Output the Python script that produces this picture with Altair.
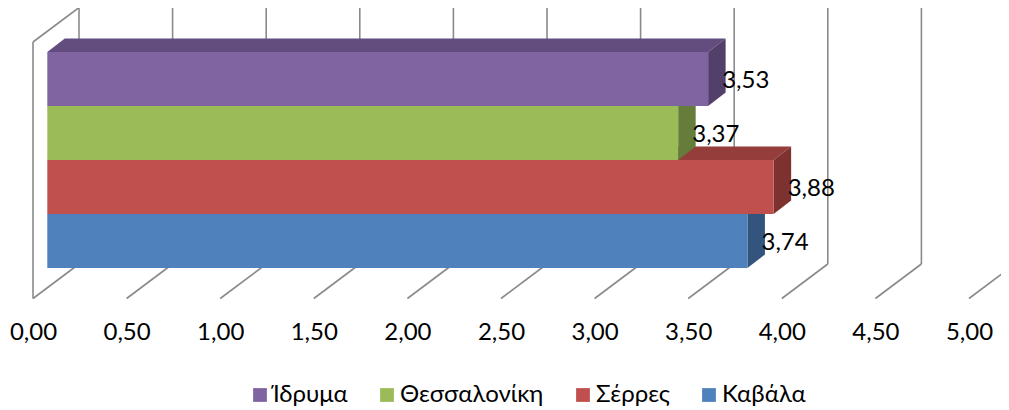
import altair as alt
import pandas as pd

# --- values ---
categories = ["Καβάλα", "Σέρρες", "Θεσσαλονίκη", "Ίδρυμα"]   # bottom to top
values = [3.74, 3.88, 3.37, 3.53]
legend_order = ["Ίδρυμα", "Θεσσαλονίκη", "Σέρρες", "Καβάλα"]
tick_values = [0, 0.5, 1, 1.5, 2, 2.5, 3, 3.5, 4, 4.5, 5]
top_colors = ["#3E6696", "#953D3B", "#7A9446", "#634D7E"]
side_colors = ["#33547C", "#7D3230", "#667C3A", "#52406B"]
legend_colors = ["#8064A2", "#9BBB59", "#C0504D", "#4F81BD"]

# --- pseudo-3D geometry, in axis units ---
FONT = "Lato"
FS = 24
GREY = "#8A8A8A"
X_DOM = [-0.13355, 5.1709]
Y_DOM = [-0.685, 4.8148]
WALL_DX, WALL_DY = 0.2457, 0.639
FLOOR_Y = -0.5648
FRONT_TOP = 4.185
BAR_OFF = 0.0764
BAR_DX, BAR_DY = 0.0935, 0.25

xs = alt.Scale(domain=X_DOM, nice=False, zero=False)
ys = alt.Scale(domain=Y_DOM, nice=False, zero=False)
x_axis = alt.Axis(
    values=tick_values, domain=False, ticks=False, grid=False, labelPadding=15,
    labelFont=FONT, labelFontSize=FS, labelColor="#000000", labelAngle=0,
    labelExpr="replace(format(datum.value,'.2f'),'.',',')",
    labelOverlap=False, labelFlush=False, labelBound=False)
X = lambda f="x": alt.X(f + ":Q", scale=xs, axis=x_axis, title=None)
Y = lambda f="y": alt.Y(f + ":Q", scale=ys, axis=None)
X2 = alt.X2("x2:Q")
Y2 = alt.Y2("y2:Q")

layers = []

# floor and wall lines
seg = []
for v in tick_values:
    seg.append(dict(x=v, y=FLOOR_Y, x2=v + WALL_DX, y2=FLOOR_Y + WALL_DY))
    seg.append(dict(x=v + WALL_DX, y=FLOOR_Y + WALL_DY, x2=v + WALL_DX, y2=FRONT_TOP + WALL_DY))
seg.append(dict(x=0, y=FLOOR_Y, x2=0, y2=FRONT_TOP))
seg.append(dict(x=0, y=FRONT_TOP, x2=WALL_DX, y2=FRONT_TOP + WALL_DY))
grid = alt.Chart(pd.DataFrame(seg)).mark_rule(color=GREY, strokeWidth=1.6, clip=True).encode(
    x=X(), y=Y(), x2=X2, y2=Y2)
layers.append(grid)

# bars, lowest first so that higher bars overlap them
for i, (c, v) in enumerate(zip(categories, values)):
    left = BAR_OFF
    right = BAR_OFF + v
    bot, top = i, i + 1
    top_df = pd.DataFrame([
        dict(x=left, y=top, y2=top),
        dict(x=left + BAR_DX, y=top + BAR_DY, y2=top),
        dict(x=right, y=top + BAR_DY, y2=top),
        dict(x=right + BAR_DX, y=top + BAR_DY, y2=top + BAR_DY),
    ])
    layers.append(alt.Chart(top_df).mark_area(color=top_colors[i], opacity=1, clip=True).encode(
        x=X(), y=Y(), y2=Y2))
    side_df = pd.DataFrame([
        dict(x=right, y=top, y2=bot),
        dict(x=right + BAR_DX, y=top + BAR_DY, y2=bot + BAR_DY),
    ])
    layers.append(alt.Chart(side_df).mark_area(color=side_colors[i], opacity=1, clip=True).encode(
        x=X(), y=Y(), y2=Y2))
    front_df = pd.DataFrame([dict(x=left, x2=right, y=bot, y2=top, name=c)])
    layers.append(alt.Chart(front_df).mark_rect(opacity=1).encode(
        x=X(), x2=X2, y=Y(), y2=Y2,
        color=alt.Color("name:N", scale=alt.Scale(domain=legend_order, range=legend_colors),
                        legend=alt.Legend(orient="none", legendX=240, legendY=375, direction="horizontal",
                                          columns=4, columnPadding=27, title=None, symbolType="square",
                                          symbolSize=190, symbolStrokeWidth=0, symbolOpacity=1,
                                          labelFont=FONT, labelFontSize=24, labelColor="#000000",
                                          labelLimit=300, labelOffset=1, padding=0))))

# value labels
lab_df = pd.DataFrame(dict(
    x=[BAR_OFF + v + 0.075 for v in values],
    y=[i + 0.5 for i in range(len(values))],
    t=[f"{v:.2f}".replace(".", ",") for v in values]))
layers.append(alt.Chart(lab_df).mark_text(align="left", baseline="middle", font=FONT, fontSize=FS, dy=2,
                                          color="#000000").encode(x=X(), y=Y(), text="t:N"))

chart = alt.layer(*layers).resolve_scale(x="shared", y="shared").properties(
    width=993, height=297,
    padding={"left": 0, "top": 0, "right": 0, "bottom": 104},
    autosize=alt.AutoSizeParams(type="none"),
    background="#FFFFFF",
).configure_view(stroke=None)

chart.save("out.html", embed_options={"renderer": "svg", "actions": False})
